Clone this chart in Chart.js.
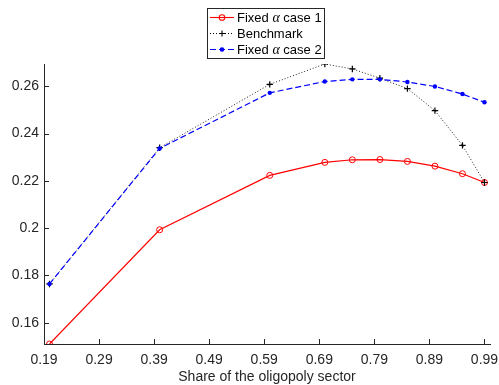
<!DOCTYPE html>
<html>
<head>
<meta charset="utf-8">
<script src="https://cdn.jsdelivr.net/npm/chart.js@4/dist/chart.umd.min.js"></script>
<style>
html,body{margin:0;padding:0;background:#fff;}
#wrap{width:499px;height:385px;position:relative;}
</style>
</head>
<body>
<div id="wrap"><canvas id="c" width="499" height="385"></canvas></div>
<script>
// Data
const shares = [0.2, 0.4, 0.6, 0.7, 0.75, 0.8, 0.85, 0.9, 0.95, 0.99];
const fixedCase1 = [0.1510, 0.1993, 0.2223, 0.2278, 0.2289, 0.2290, 0.2282, 0.2262, 0.2230, 0.2193];
const benchmark  = [0.1764, 0.2340, 0.2608, 0.2694, 0.2673, 0.2634, 0.2590, 0.2497, 0.2350, 0.2193];
const fixedCase2 = [0.1764, 0.2337, 0.2572, 0.2620, 0.2629, 0.2629, 0.2618, 0.2599, 0.2567, 0.2532];
const xTicks = [0.19, 0.29, 0.39, 0.49, 0.59, 0.69, 0.79, 0.89, 0.99];
const yTicks = [0.16, 0.18, 0.2, 0.22, 0.24, 0.26];
const seriesNames = ['Fixed ', 'Benchmark', 'Fixed '];
const xTitle = 'Share of the oligopoly sector';

const toPts = arr => arr.map((v, i) => ({x: shares[i], y: v}));
const allVals = fixedCase1.concat(benchmark, fixedCase2);
const yMin = Math.min(...allVals), yMax = Math.max(...allVals);

const AX = '#262626';
const FONT = '"Liberation Sans", Arial, sans-serif';

const inwardTicks = {
  id: 'inwardTicks',
  afterDatasetsDraw(chart) {
    const ctx = chart.ctx, a = chart.chartArea;
    const xs = chart.scales.x, ys = chart.scales.y;
    ctx.save();
    ctx.strokeStyle = AX; ctx.lineWidth = 1;
    ctx.beginPath();
    xTicks.forEach(v => { const px = Math.round(xs.getPixelForValue(v)) + 0.5; ctx.moveTo(px, a.bottom); ctx.lineTo(px, a.bottom - 5); });
    yTicks.forEach(v => { const py = Math.round(ys.getPixelForValue(v)) + 0.5; ctx.moveTo(a.left, py); ctx.lineTo(a.left + 5, py); });
    ctx.stroke();
    ctx.restore();
  }
};

const legendBox = {
  id: 'legendBox',
  afterDraw(chart) {
    const ctx = chart.ctx;
    const bx = 207.5, by = 8.5, bw = 117, bh = 50;
    ctx.save();
    ctx.fillStyle = '#fff'; ctx.fillRect(bx, by, bw, bh);
    ctx.strokeStyle = AX; ctx.lineWidth = 1; ctx.strokeRect(bx, by, bw, bh);
    const rows = [
      {y: 17.5, color: '#ff0000', dash: [], marker: 'ocircle', label: [seriesNames[0], 'α', ' case 1']},
      {y: 33.5, color: '#000000', dash: [1, 2], marker: 'plus', label: [seriesNames[1]]},
      {y: 49.5, color: '#0000ff', dash: [6, 3], marker: 'dot', label: [seriesNames[2], 'α', ' case 2']}
    ];
    rows.forEach(r => {
      ctx.strokeStyle = r.color; ctx.lineWidth = 1.1; ctx.setLineDash(r.dash);
      ctx.beginPath(); ctx.moveTo(210, r.y); ctx.lineTo(234, r.y); ctx.stroke();
      ctx.setLineDash([]);
      const mx = 222;
      if (r.marker === 'ocircle') { ctx.beginPath(); ctx.arc(mx, r.y, 2.8, 0, Math.PI*2); ctx.stroke(); }
      else if (r.marker === 'plus') { ctx.beginPath(); ctx.moveTo(mx-3, r.y); ctx.lineTo(mx+3, r.y); ctx.moveTo(mx, r.y-3); ctx.lineTo(mx, r.y+3); ctx.stroke(); }
      else { ctx.fillStyle = r.color; ctx.beginPath(); ctx.arc(mx, r.y, 2.3, 0, Math.PI*2); ctx.fill(); }
      let tx = 237;
      ctx.fillStyle = '#000'; ctx.textBaseline = 'middle'; ctx.textAlign = 'left';
      r.label.forEach(part => {
        ctx.font = part === 'α' ? 'italic 14px "Liberation Serif", "DejaVu Serif", serif' : '13px ' + FONT;
        ctx.fillText(part, tx, r.y + 0.5);
        tx += ctx.measureText(part).width;
      });
    });
    ctx.restore();
  }
};

new Chart(document.getElementById('c'), {
  type: 'line',
  data: {
    datasets: [
      {label: 'Fixed α case 1', data: toPts(fixedCase1), borderColor: '#ff0000', backgroundColor: 'rgba(0,0,0,0)',
       borderWidth: 1.2, pointStyle: 'circle', pointRadius: 3, pointBorderWidth: 1, pointBorderColor: '#ff0000',
       pointBackgroundColor: 'rgba(0,0,0,0)', tension: 0, order: 2},
      {label: 'Benchmark', data: toPts(benchmark), borderColor: '#222', backgroundColor: 'rgba(0,0,0,0)',
       borderWidth: 1, borderDash: [1, 2], pointStyle: 'cross', pointRadius: 3.2, pointBorderWidth: 1.2,
       pointBorderColor: '#000', tension: 0, order: 1},
      {label: 'Fixed α case 2', data: toPts(fixedCase2), borderColor: '#0000ff', backgroundColor: 'rgba(0,0,0,0)',
       borderWidth: 1.2, borderDash: [6, 3], pointStyle: 'circle', pointRadius: 2.2, pointBorderWidth: 0,
       pointBackgroundColor: '#0000ff', tension: 0, order: 0}
    ]
  },
  options: {
    responsive: false,
    animation: false,
    devicePixelRatio: 1,
    layout: {padding: {left: 0, right: 9, top: 64, bottom: 0}},
    plugins: {legend: {display: false}, tooltip: {enabled: false}},
    elements: {line: {borderCapStyle: 'butt'}},
    scales: {
      x: {
        type: 'linear', min: 0.19, max: 1.0,
        afterBuildTicks: s => { s.ticks = xTicks.map(v => ({value: v})); },
        afterFit: s => { s.height = 41; s.paddingLeft = 0; s.paddingRight = 0; },
        grid: {display: false, drawTicks: false},
        border: {display: true, color: AX, width: 1},
        ticks: {color: AX, font: {family: FONT, size: 14}, padding: 8, maxRotation: 0, autoSkip: false,
                callback: v => v.toFixed(2)},
        title: {display: true, text: xTitle, color: AX, font: {family: FONT, size: 14, lineHeight: 1.1}, padding: {top: 0, bottom: 0}}
      },
      y: {
        type: 'linear', min: yMin, max: yMax,
        afterBuildTicks: s => { s.ticks = yTicks.map(v => ({value: v})); },
        afterFit: s => { s.width = 44; s.paddingTop = 0; s.paddingBottom = 0; },
        grid: {display: false, drawTicks: false},
        border: {display: true, color: AX, width: 1},
        ticks: {color: AX, font: {family: FONT, size: 14}, padding: 5, autoSkip: false,
                callback: v => String(+v.toFixed(2))}
      }
    }
  },
  plugins: [inwardTicks, legendBox]
});
</script>
</body>
</html>
